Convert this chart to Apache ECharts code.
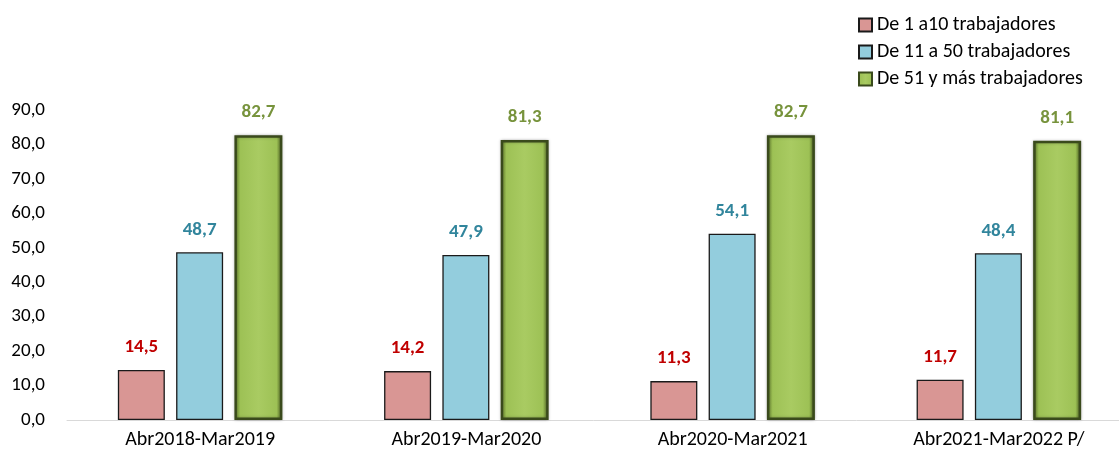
<!DOCTYPE html>
<html>
<head>
<meta charset="utf-8">
<script src="https://cdn.jsdelivr.net/npm/echarts@6.0.0/dist/echarts.min.js"></script>
<style>
html, body { margin: 0; padding: 0; background: #fff; }
#chart { width: 1119px; height: 455px; }
</style>
</head>
<body>
<div id="chart"></div>
<script>
const categories = ["Abr2018-Mar2019", "Abr2019-Mar2020", "Abr2020-Mar2021", "Abr2021-Mar2022 P/"];
const seriesNames = ["De 1 a10 trabajadores", "De 11 a 50 trabajadores", "De 51 y más trabajadores"];
const small = [14.5, 14.2, 11.3, 11.7];
const medium = [48.7, 47.9, 54.1, 48.4];
const large = [82.7, 81.3, 82.7, 81.1];

const font = "Calibri, Carlito, 'Open Sans', sans-serif";
const fmt = (v) => v.toFixed(1).replace(".", ",");

const chart = echarts.init(document.getElementById("chart"));
const label = (color) => ({
	show: true,
	position: "top",
	distance: 13,
	color: color,
	fontWeight: "bold",
	fontSize: 19,
	fontFamily: font,
	formatter: (p) => fmt(p.value),
});

chart.setOption({
	animation: false,
	grid: { left: 67, width: 1065, top: 110, bottom: 35, outerBoundsMode: "none", containLabel: false },
	legend: {
		orient: "vertical",
		left: 853,
		top: 10,
		icon: "rect",
		itemWidth: 13,
		itemHeight: 13,
		itemGap: 7,
		textStyle: { fontSize: 20, fontFamily: font, color: "#000" },
		data: seriesNames,
	},
	xAxis: {
		type: "category",
		data: categories,
		axisLine: { lineStyle: { color: "#d9d9d9", width: 1 } },
		axisTick: { show: false },
		axisLabel: { color: "#000", fontSize: 20, fontFamily: font, margin: 10 },
	},
	yAxis: {
		type: "value",
		min: 0,
		max: 90,
		interval: 10,
		splitLine: { show: false },
		axisLine: { show: false },
		axisTick: { show: false },
		axisLabel: { color: "#000", fontSize: 19, fontFamily: font, margin: 22, formatter: fmt },
	},
	series: [
		{
			name: seriesNames[0],
			type: "bar",
			data: small,
			barWidth: 47,
			barGap: "24%",
			itemStyle: { color: "#d99694", borderColor: "#1a1a1a", borderWidth: 1.3 },
			label: label("#c00000"),
		},
		{
			name: seriesNames[1],
			type: "bar",
			data: medium,
			barWidth: 47,
			barGap: "24%",
			itemStyle: { color: "#93cddd", borderColor: "#1a1a1a", borderWidth: 1.3 },
			label: label("#31859c"),
		},
		{
			name: seriesNames[2],
			type: "bar",
			data: large,
			barWidth: 48,
			barGap: "24%",
			itemStyle: {
				color: new echarts.graphic.LinearGradient(0, 0, 1, 0, [
					{ offset: 0, color: "#5f7a2a" },
					{ offset: 0.12, color: "#9dc155" },
					{ offset: 0.5, color: "#a9cb62" },
					{ offset: 0.88, color: "#9dc155" },
					{ offset: 1, color: "#4e6322" },
				]),
				borderColor: "#3a4a1c",
				borderWidth: 2.5,
				shadowColor: "rgba(0,0,0,0.25)",
				shadowBlur: 3,
			},
			label: label("#77933c"),
		},
	],
});
</script>
</body>
</html>
